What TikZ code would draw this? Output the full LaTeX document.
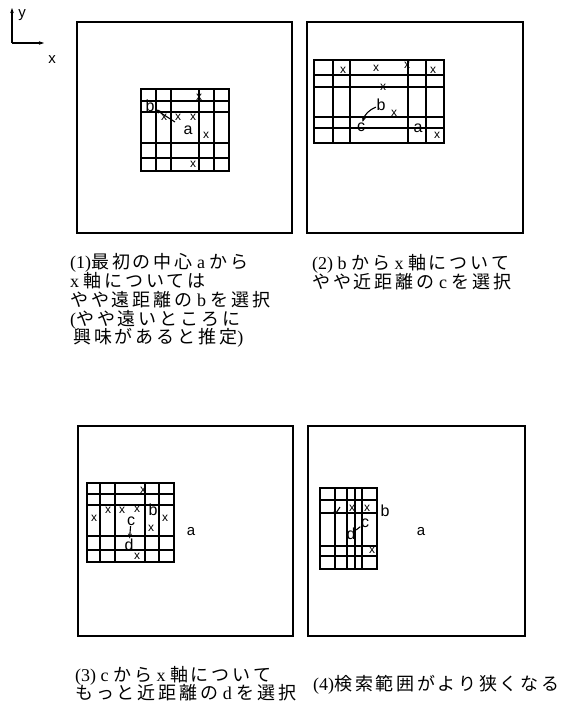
\documentclass[tikz,border=0pt]{standalone}
\usepackage{fontspec}
\setmainfont{Liberation Serif}
\newfontfamily\jp{Noto Sans CJK JP}[LetterSpace=16]
\newfontfamily\lsans{Liberation Sans}
\usetikzlibrary{arrows.meta}
\newcommand\J[1]{{\jp #1}}
\tikzset{
  frame/.style={draw, line width=1.3pt},
  gridl/.style={line width=1.1pt},
  xm/.style={inner sep=0pt, font=\lsans\fontsize{12}{12}\selectfont},
  lt/.style={inner sep=0.5pt, font=\lsans\fontsize{16}{16}\selectfont},
  la/.style={inner sep=0.5pt, font=\lsans\fontsize{15}{15}\selectfont},
  captxt/.style={anchor=base west, inner sep=0pt, font=\fontsize{18}{18}\selectfont},
  arr/.style={line width=1.1pt, -{Stealth[length=5pt,width=4pt]}},
}
\begin{document}
\begin{tikzpicture}[x=1pt,y=-1pt]
\useasboundingbox (0,0) rectangle (573,704);

% axes
\coordinate (o) at (12,43);
\coordinate (ye) at (12,8);
\coordinate (xe) at (44,43);
\draw[line width=1.1pt,-{Stealth[length=5pt,width=3.5pt]}] (o) -- (ye);
\draw[line width=1.1pt,-{Stealth[length=5pt,width=3.5pt]}] (o) -- (xe);
\node[la] (ylab) at (22,15) {y};
\node[la] (xlab) at (52,60) {x};

% outer frames
\draw[frame] (77,22) rectangle (292,233);
\draw[frame] (307,22) rectangle (523,233);
\draw[frame] (78,426) rectangle (293,636);
\draw[frame] (308,426) rectangle (525,636);

% ---------- panel 1 grid
\draw[gridl] (141,89) rectangle (229,171);
\foreach \x in {156,171,199,214} \draw[gridl] (\x,89) -- (\x,171);
\foreach \y in {101,112,143,158} \draw[gridl] (141,\y) -- (229,\y);
\foreach \a/\b [count=\i] in {199/97,164/117,178/117,193/117,206/135,193/164}
  \node[xm] (m1-\i) at (\a,\b) {x};
\node[lt] (b1) at (150,106) {b};
\node[lt] (a1) at (188,130) {a};
\coordinate (s1) at (175,122);
\draw[arr] (s1) -- (b1);

% ---------- panel 2 grid
\draw[gridl] (314,60) rectangle (444,143);
\foreach \x in {333,350,408,426} \draw[gridl] (\x,60) -- (\x,143);
\foreach \y in {75,87,117,128} \draw[gridl] (314,\y) -- (444,\y);
\foreach \a/\b [count=\i] in {343/70,376/68,407/65,433/70,383/87,394/113,437/135}
  \node[xm] (m2-\i) at (\a,\b) {x};
\node[lt] (b2) at (381,105) {b};
\node[lt] (c2) at (361,127) {c};
\node[lt] (a2) at (418,128) {a};
\draw[arr] (b2) to[bend right=25] (c2);

% ---------- panel 3 grid
\draw[gridl] (87,483) rectangle (174,562);
\foreach \x in {100,115,145,159} \draw[gridl] (\x,483) -- (\x,562);
\foreach \y in {494,505,536,550} \draw[gridl] (87,\y) -- (174,\y);
\foreach \a/\b [count=\i] in {143/490,94/518,108/510,122/510,137/509,165/518,151/528,137/556}
  \node[xm] (m3-\i) at (\a,\b) {x};
\node[lt] (b3) at (153,510) {b};
\node[lt] (c3) at (131,521) {c};
\node[lt] (d3) at (129,545) {d};
\node[la] (a3) at (191,532) {a};
\draw[arr] (c3) -- (d3);

% ---------- panel 4 grid
\draw[gridl] (320,488) rectangle (377,569);
\foreach \x in {335,347,355,362} \draw[gridl] (\x,488) -- (\x,569);
\foreach \y in {500,513,546,556} \draw[gridl] (320,\y) -- (377,\y);
\draw[line width=1.1pt] (334,511) -- (336,513) -- (340,507);
\foreach \a/\b [count=\i] in {352/508,367/508,372/550}
  \node[xm] (m4-\i) at (\a,\b) {x};
\node[lt] (b4) at (385,511) {b};
\node[lt] (c4) at (365,523) {c};
\node[lt] (d4) at (351,534) {d};
\node[la] (a4) at (421,532) {a};
\draw[line width=1.1pt] (c4) -- (d4);

% ---------- captions
\node[captxt] (t11) at (70,268) {(1)\J{最初の中心} a \J{から}};
\node[captxt] (t12) at (70,287) {x \J{軸については}};
\node[captxt] (t13) at (70,306) {\J{やや遠距離の} b \J{を選択}};
\node[captxt] (t14) at (70,325) {(\J{やや遠いところに}};
\node[captxt] (t15) at (73,343) {\J{興味があると推定})};

\node[captxt] (t21) at (312,269) {(2) b \J{から} x \J{軸について}};
\node[captxt] (t22) at (312,288) {\J{やや近距離の} c \J{を選択}};

\node[captxt] (t31) at (75,681) {(3) c \J{から} x \J{軸について}};
\node[captxt] (t32) at (75,699) {\J{もっと近距離の} d \J{を選択}};

\node[captxt] (t4) at (313,690) {(4)\J{検索範囲がより狭くなる}};
\end{tikzpicture}
\end{document}
